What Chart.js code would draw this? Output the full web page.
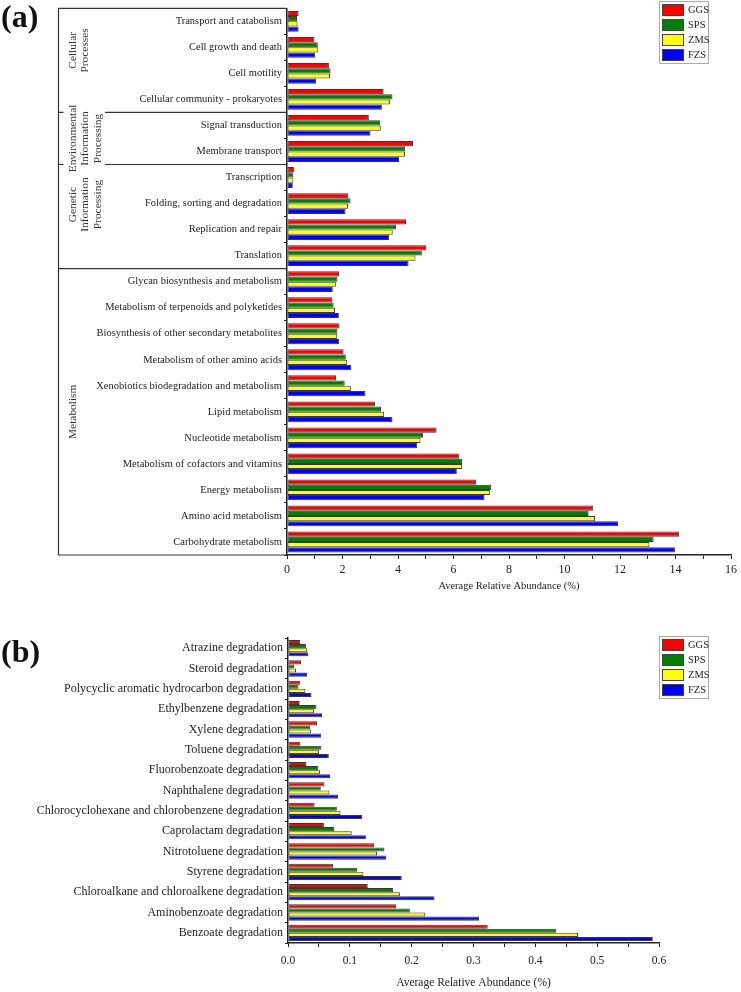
<!DOCTYPE html>
<html>
<head>
<meta charset="utf-8">
<script src="https://cdn.jsdelivr.net/npm/chart.js@4.4.1/dist/chart.umd.min.js"></script>
<style>
  body { margin: 0; background: #fff; }
  #wrap { position: relative; width: 741px; height: 992px; }
  canvas { position: absolute; left: 0; }
</style>
</head>
<body>
<div id="wrap">
  <canvas id="chartA" width="741" height="600" style="top:0"></canvas>
  <canvas id="chartB" width="741" height="392" style="top:600px"></canvas>
</div>
<script>
// panel (a) - KEGG level 2
const labelsA = [
  "Transport and catabolism",
  "Cell growth and death",
  "Cell motility",
  "Cellular community - prokaryotes",
  "Signal transduction",
  "Membrane transport",
  "Transcription",
  "Folding, sorting and degradation",
  "Replication and repair",
  "Translation",
  "Glycan biosynthesis and metabolism",
  "Metabolism of terpenoids and polyketides",
  "Biosynthesis of other secondary metabolites",
  "Metabolism of other amino acids",
  "Xenobiotics biodegradation and metabolism",
  "Lipid metabolism",
  "Nucleotide metabolism",
  "Metabolism of cofactors and vitamins",
  "Energy metabolism",
  "Amino acid metabolism",
  "Carbohydrate metabolism",
];
const ggsA = [0.42, 0.99, 1.51, 3.48, 2.95, 4.54, 0.25, 2.21, 4.29, 5.02, 1.88, 1.64, 1.89, 2.04, 1.77, 3.17, 5.39, 6.21, 6.82, 11.04, 14.13];
const spsA = [0.36, 1.11, 1.57, 3.80, 3.36, 4.25, 0.23, 2.29, 3.93, 4.86, 1.82, 1.68, 1.82, 2.12, 2.08, 3.39, 4.90, 6.31, 7.36, 10.87, 13.21];
const zmsA = [0.38, 1.13, 1.55, 3.71, 3.38, 4.25, 0.23, 2.20, 3.81, 4.63, 1.76, 1.73, 1.81, 2.17, 2.30, 3.50, 4.81, 6.31, 7.31, 11.10, 13.06];
const fzsA = [0.42, 1.02, 1.05, 3.42, 3.01, 4.04, 0.21, 2.11, 3.68, 4.38, 1.65, 1.87, 1.88, 2.32, 2.83, 3.80, 4.69, 6.12, 7.12, 11.93, 13.98];

const groupNames = [["Cellular", "Processes"], ["Environmental", "Information", "Processing"], ["Genetic", "Information", "Processing"], ["Metabolism"]];
const groupSizes = [4, 2, 4, 11];

// panel (b) - xenobiotics degradation
const labelsB = [
  "Atrazine degradation",
  "Steroid degradation",
  "Polycyclic aromatic hydrocarbon degradation",
  "Ethylbenzene degradation",
  "Xylene degradation",
  "Toluene degradation",
  "Fluorobenzoate degradation",
  "Naphthalene degradation",
  "Chlorocyclohexane and chlorobenzene degradation",
  "Caprolactam degradation",
  "Nitrotoluene degradation",
  "Styrene degradation",
  "Chloroalkane and chloroalkene degradation",
  "Aminobenzoate degradation",
  "Benzoate degradation",
];
const ggsB = [0.020, 0.021, 0.020, 0.019, 0.047, 0.020, 0.030, 0.059, 0.043, 0.058, 0.139, 0.073, 0.129, 0.175, 0.323];
const spsB = [0.029, 0.010, 0.017, 0.046, 0.036, 0.054, 0.049, 0.053, 0.079, 0.075, 0.156, 0.112, 0.170, 0.197, 0.434];
const zmsB = [0.031, 0.013, 0.028, 0.042, 0.037, 0.050, 0.052, 0.067, 0.085, 0.103, 0.144, 0.122, 0.181, 0.222, 0.469];
const fzsB = [0.033, 0.031, 0.038, 0.055, 0.054, 0.066, 0.068, 0.081, 0.120, 0.126, 0.159, 0.184, 0.237, 0.309, 0.590];

const seriesNames = ["GGS", "SPS", "ZMS", "FZS"];
const colors = ["#ff0000", "#008000", "#ffff00", "#0000ff"];

const serif = "'Liberation Serif', 'Times New Roman', serif";
Chart.defaults.font.family = serif;
Chart.defaults.color = "#222";

function makeSets(values) {
  return values.map((d, i) => ({
    label: seriesNames[i],
    data: d,
    backgroundColor: colors[i],
    borderColor: "#3a3a3a",
    borderWidth: 1,
    borderSkipped: false,
    categoryPercentage: 0.8,
    barPercentage: 1,
  }));
}

// legend box in the top right corner
const legendBox = {
  id: "legendBox",
  afterDraw(chart, args, opts) {
    const c = chart.ctx;
    const x = 659, y = opts.top, w = 49, h = 62;
    c.save();
    c.strokeStyle = "#aaa";
    c.lineWidth = 1;
    c.strokeRect(x + 0.5, y + 0.5, w, h);
    c.font = "10.5px " + serif;
    c.textBaseline = "middle";
    chart.data.datasets.forEach((ds, i) => {
      const ry = y + 3 + i * 15;
      c.fillStyle = ds.backgroundColor;
      c.fillRect(x + 3, ry, 22, 12);
      c.strokeStyle = "#444";
      c.strokeRect(x + 3.5, ry + 0.5, 21, 11);
      c.fillStyle = "#222";
      c.fillText(ds.label, x + 29, ry + 6.5);
    });
    c.restore();
  },
};

// panel letter
const panelTag = {
  id: "panelTag",
  afterDraw(chart, args, opts) {
    const c = chart.ctx;
    c.save();
    c.font = "bold 32px " + serif;
    c.fillStyle = "#111";
    c.textBaseline = "middle";
    c.fillText(opts.text, 1, opts.y);
    c.restore();
  },
};

// bracket box with the level 1 group names
const groupBrackets = {
  id: "groupBrackets",
  afterDraw(chart) {
    const c = chart.ctx;
    const y = chart.scales.y;
    const band = y.getPixelForValue(1) - y.getPixelForValue(0);
    const edge = (i) => y.getPixelForValue(i) - band / 2;
    const left = chart.chartArea.left;
    const bx = 58.5;
    c.save();
    c.strokeStyle = "#333";
    c.lineWidth = 1.2;
    c.beginPath();
    c.moveTo(left, edge(0));
    c.lineTo(bx, edge(0));
    c.lineTo(bx, edge(labelsA.length));
    c.lineTo(left, edge(labelsA.length));
    let k = 0;
    const shift = [-10, 0, -12, 0];
    c.fillStyle = "#333";
    c.font = "11.4px " + serif;
    c.textAlign = "center";
    c.textBaseline = "middle";
    groupSizes.forEach((n, g) => {
      const top = edge(k);
      const bot = edge(k + n);
      if (k > 0) {
        const start = (g === 1 || g === 2) ? 105 : bx;
        c.moveTo(start, top);
        c.lineTo(left, top);
        if (start !== bx) {
          c.moveTo(bx, top);
          c.lineTo(bx + 5, top);
        }
      }
      const mid = (top + bot) / 2 + shift[g];
      groupNames[g].forEach((t, j) => {
        c.save();
        c.translate(73 + j * 12.5, mid);
        c.rotate(-Math.PI / 2);
        c.fillText(t, 0, 0);
        c.restore();
      });
      k += n;
    });
    c.stroke();
    c.restore();
  },
};

const chartA = new Chart(document.getElementById("chartA"), {
  type: "bar",
  data: {
    labels: labelsA,
    datasets: makeSets([ggsA, spsA, zmsA, fzsA]),
  },
  plugins: [legendBox, panelTag, groupBrackets],
  options: {
    indexAxis: "y",
    responsive: false,
    animation: false,
    layout: { padding: { top: 3, right: 7, left: 0, bottom: 0 } },
    plugins: {
      legend: { display: false },
      tooltip: { enabled: false },
      legendBox: { top: 1 },
      panelTag: { text: "(a)", y: 19 },
    },
    scales: {
      x: {
        min: 0,
        max: 16,
        ticks: {
          stepSize: 1,
          autoSkip: false,
          maxRotation: 0,
          padding: 4,
          font: { size: 12 },
          callback: (v) => (v % 2 === 0 ? v : ""),
        },
        grid: { drawOnChartArea: false, tickLength: 4, color: "#222" },
        border: { color: "#222", width: 1.5 },
        title: {
          display: true,
          text: "Average Relative Abundance (%)",
          font: { size: 10.5 },
          padding: { top: 0, bottom: 7 },
        },
        afterFit: (s) => { s.height = 45; },
      },
      y: {
        ticks: { padding: 2, autoSkip: false, font: { size: 10.5 } },
        grid: { drawOnChartArea: false, tickLength: 3, color: "#222" },
        border: { color: "#222", width: 1.5 },
        afterFit: (s) => { s.width = 287; },
      },
    },
  },
});

const chartB = new Chart(document.getElementById("chartB"), {
  type: "bar",
  data: {
    labels: labelsB,
    datasets: makeSets([ggsB, spsB, zmsB, fzsB]),
  },
  plugins: [legendBox, panelTag],
  options: {
    indexAxis: "y",
    responsive: false,
    animation: false,
    layout: { padding: { top: 38, right: 82, left: 0, bottom: 0 } },
    plugins: {
      legend: { display: false },
      tooltip: { enabled: false },
      legendBox: { top: 36 },
      panelTag: { text: "(b)", y: 54 },
    },
    scales: {
      x: {
        min: 0,
        max: 0.6,
        ticks: {
          stepSize: 0.05,
          autoSkip: false,
          maxRotation: 0,
          padding: 7,
          font: { size: 11.5 },
          callback: (v) => (Math.round(v * 100) % 10 === 0 ? v.toFixed(1) : ""),
        },
        grid: { drawOnChartArea: false, tickLength: 4, color: "#222" },
        border: { color: "#222", width: 1.5 },
        title: {
          display: true,
          text: "Average Relative Abundance (%)",
          font: { size: 11.5 },
          padding: { top: 0, bottom: 2 },
        },
        afterFit: (s) => { s.height = 49; },
      },
      y: {
        ticks: { padding: 2, autoSkip: false, font: { size: 12 } },
        grid: { drawOnChartArea: false, tickLength: 3, color: "#222" },
        border: { color: "#222", width: 1.5 },
        afterFit: (s) => { s.width = 288; },
      },
    },
  },
});
</script>
</body>
</html>
